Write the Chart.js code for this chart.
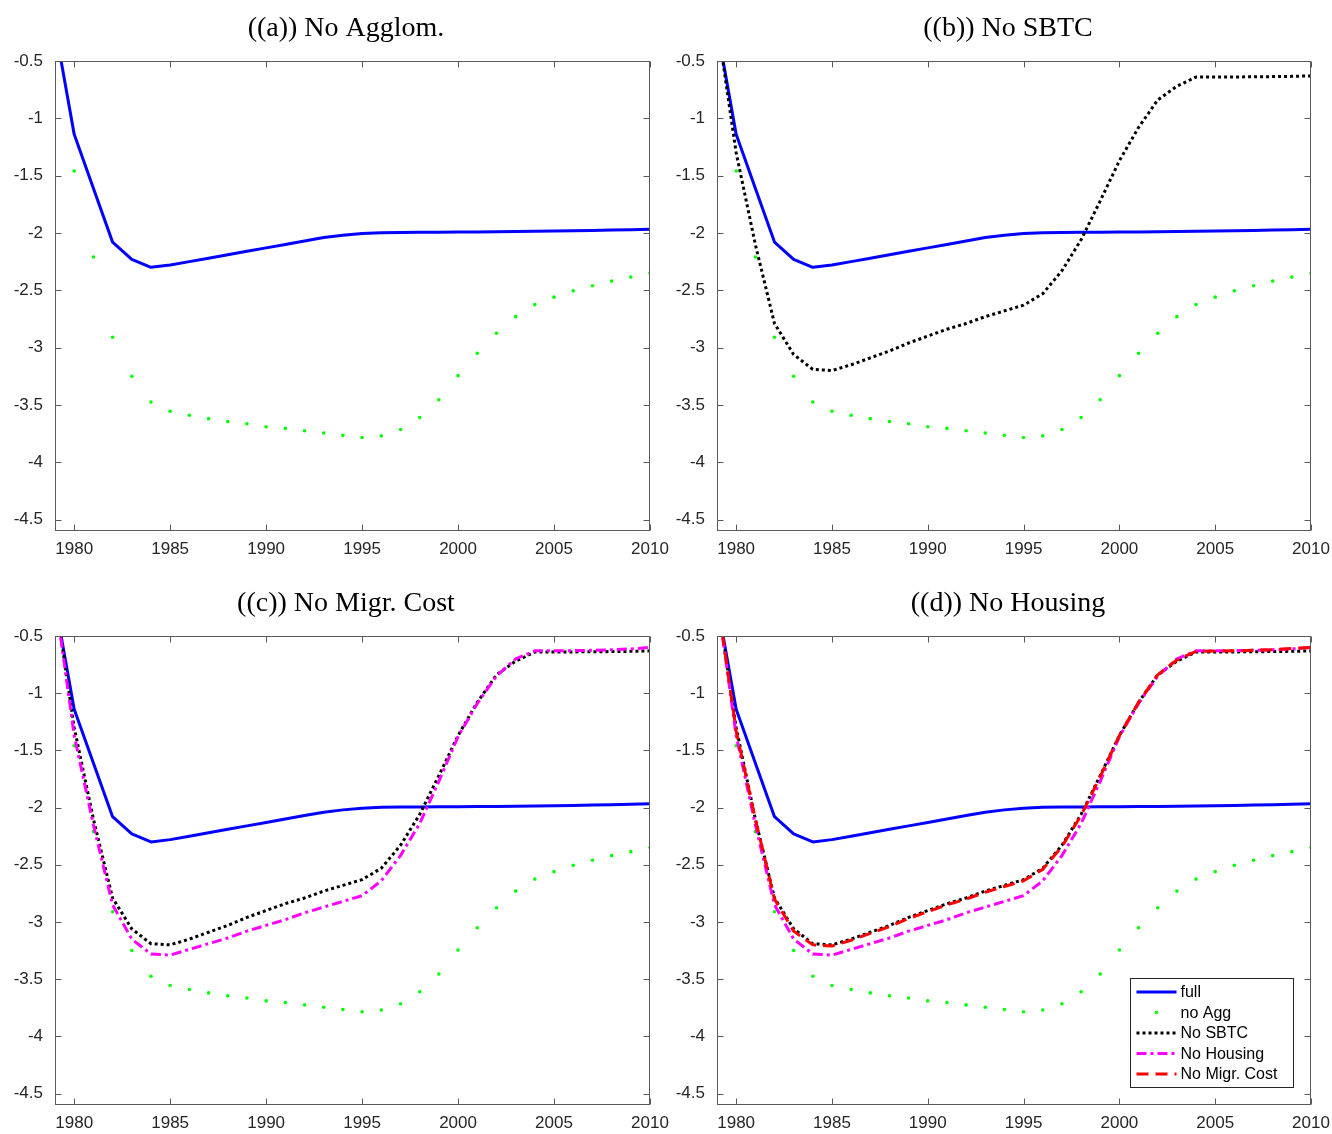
<!DOCTYPE html>
<html>
<head>
<meta charset="utf-8">
<script src="https://cdn.jsdelivr.net/npm/chart.js@4.4.1/dist/chart.umd.min.js"></script>
<style>
  html, body { margin: 0; padding: 0; background: #fff; overflow: hidden; }
  #wrap { position: relative; width: 1332px; height: 1134px; overflow: hidden; }
  canvas { position: absolute; }
</style>
</head>
<body>
<div id="wrap">
  <canvas id="pa" width="692" height="575" style="left:0;top:0"></canvas>
  <canvas id="pb" width="692" height="575" style="left:662px;top:0"></canvas>
  <canvas id="pc" width="692" height="559" style="left:0;top:575px"></canvas>
  <canvas id="pd" width="692" height="559" style="left:662px;top:575px"></canvas>
</div>
<script>
const years = [1979, 1980, 1981, 1982, 1983, 1984, 1985, 1986, 1987, 1988, 1989,
               1990, 1991, 1992, 1993, 1994, 1995, 1996, 1997, 1998, 1999,
               2000, 2001, 2002, 2003, 2004, 2005, 2006, 2007, 2008, 2009, 2010];

const full = [-0.2, -1.14, -1.61, -2.08, -2.23, -2.30, -2.28, -2.25, -2.22, -2.19, -2.16,
              -2.13, -2.10, -2.07, -2.04, -2.02, -2.005, -1.998, -1.995, -1.994, -1.993,
              -1.992, -1.991, -1.99, -1.988, -1.986, -1.984, -1.981, -1.978, -1.975, -1.971, -1.967];

const noAgg = [-0.3, -1.46, -2.21, -2.91, -3.25, -3.475, -3.555, -3.59, -3.62, -3.645, -3.665,
               -3.69, -3.705, -3.725, -3.745, -3.765, -3.785, -3.77, -3.715, -3.61, -3.455,
               -3.245, -3.05, -2.875, -2.73, -2.625, -2.56, -2.505, -2.46, -2.42, -2.385, -2.35];

const noSBTC = [-0.15, -1.30, -2.10, -2.79, -3.06, -3.19, -3.20, -3.15, -3.09, -3.03, -2.96,
                -2.90, -2.84, -2.79, -2.73, -2.68, -2.63, -2.53, -2.33, -2.06, -1.72,
                -1.37, -1.08, -0.84, -0.72, -0.64, -0.64, -0.639, -0.638, -0.636, -0.634, -0.63];

const noHousing = [-0.15, -1.37, -2.15, -2.85, -3.15, -3.28, -3.29, -3.24, -3.19, -3.14, -3.08,
                   -3.03, -2.98, -2.92, -2.87, -2.82, -2.77, -2.64, -2.42, -2.14, -1.77,
                   -1.38, -1.09, -0.85, -0.70, -0.63, -0.63, -0.628, -0.625, -0.62, -0.613, -0.60];

const noMigrCost = [-0.15, -1.33, -2.10, -2.80, -3.08, -3.20, -3.21, -3.16, -3.10, -3.04, -2.97,
                    -2.91, -2.85, -2.80, -2.74, -2.69, -2.64, -2.54, -2.34, -2.07, -1.73,
                    -1.37, -1.08, -0.84, -0.71, -0.635, -0.632, -0.63, -0.625, -0.62, -0.61, -0.60];

const xTicks = [1980, 1985, 1990, 1995, 2000, 2005, 2010];
const yTicks = [-4.5, -4, -3.5, -3, -2.5, -2, -1.5, -1, -0.5];

const titles = ['((a)) No Agglom.', '((b)) No SBTC', '((c)) No Migr. Cost', '((d)) No Housing'];

// which series show up in each panel
const panelSeries = [
  ['full', 'noAgg'],
  ['full', 'noAgg', 'noSBTC'],
  ['full', 'noAgg', 'noSBTC', 'noHousing'],
  ['full', 'noAgg', 'noSBTC', 'noHousing', 'noMigrCost']
];

const toPts = arr => years.map((yr, i) => ({ x: yr, y: arr[i] }));

const seriesDefs = {
  full:       { label: 'full', data: full, borderColor: '#0000ff', borderWidth: 3 },
  noAgg:      { label: 'no Agg', data: noAgg, borderColor: '#00ff00', showLine: false,
                pointRadius: 1.8, pointBackgroundColor: '#00ff00', pointBorderWidth: 0 },
  noSBTC:     { label: 'No SBTC', data: noSBTC, borderColor: '#000000', borderWidth: 3, borderDash: [3, 3] },
  noHousing:  { label: 'No Housing', data: noHousing, borderColor: '#ff00ff', borderWidth: 3, borderDash: [10, 4, 3, 4] },
  noMigrCost: { label: 'No Migr. Cost', data: noMigrCost, borderColor: '#ff0000', borderWidth: 3, borderDash: [12, 7] }
};

// matlab-style box with inward ticks on all four sides
const boxTicks = {
  id: 'boxTicks',
  afterDraw(chart) {
    const { ctx, chartArea: a, scales: { x, y } } = chart;
    const L = Math.round(a.left) + 0.5, R = Math.round(a.right) - 0.5;
    const T = Math.round(a.top) + 0.5, B = Math.round(a.bottom) - 0.5;
    const len = 6;
    ctx.save();
    ctx.strokeStyle = '#5a5a5a';
    ctx.lineWidth = 1;
    ctx.strokeRect(L, T, R - L, B - T);
    ctx.beginPath();
    xTicks.forEach(v => {
      const px = Math.round(x.getPixelForValue(v)) + 0.5;
      ctx.moveTo(px, B); ctx.lineTo(px, B - len);
      ctx.moveTo(px, T); ctx.lineTo(px, T + len);
    });
    yTicks.forEach(v => {
      const py = Math.round(y.getPixelForValue(v)) + 0.5;
      ctx.moveTo(L, py); ctx.lineTo(L + len, py);
      ctx.moveTo(R, py); ctx.lineTo(R - len, py);
    });
    ctx.stroke();
    ctx.restore();
  }
};

const insideLegend = {
  id: 'insideLegend',
  afterDraw(chart) {
    const { ctx, chartArea: a } = chart;
    const sets = chart.data.datasets;
    const rowH = 20.5;
    const w = 163, h = 109;
    const x0 = Math.round(a.right - 18 - w) + 0.5;
    const y0 = Math.round(a.bottom - 18 - h) + 0.5;
    ctx.save();
    ctx.fillStyle = '#fff';
    ctx.fillRect(x0, y0, w, h);
    ctx.strokeStyle = '#262626';
    ctx.lineWidth = 1;
    ctx.strokeRect(x0, y0, w, h);
    ctx.font = '16px "Liberation Sans", Arial, sans-serif';
    ctx.textBaseline = 'middle';
    sets.forEach((d, i) => {
      const cy = y0 + 13.5 + i * rowH;
      if (d.showLine === false) {
        ctx.fillStyle = d.pointBackgroundColor;
        ctx.beginPath();
        ctx.arc(x0 + 26, cy, 1.8, 0, Math.PI * 2);
        ctx.fill();
      } else {
        ctx.strokeStyle = d.borderColor;
        ctx.lineWidth = d.borderWidth;
        ctx.setLineDash(d.borderDash || []);
        ctx.beginPath();
        ctx.moveTo(x0 + 6, cy);
        ctx.lineTo(x0 + 46, cy);
        ctx.stroke();
        ctx.setLineDash([]);
      }
      ctx.fillStyle = '#000';
      ctx.fillText(d.label, x0 + 50, cy + 1);
    });
    ctx.restore();
  }
};

const tickFont = { family: '"Liberation Sans", Arial, sans-serif', size: 17 };

function makePanel(id, idx, rightW, xAxisH) {
  const keys = panelSeries[idx];
  const datasets = keys.map((k, i) => {
    const s = seriesDefs[k];
    return Object.assign({
      pointRadius: 0,
      borderCapStyle: 'butt',
      borderJoinStyle: 'round',
      tension: 0,
      order: keys.length - i
    }, s, { data: toPts(s.data) });
  });
  const plugins = [boxTicks];
  if (idx === 3) plugins.push(insideLegend);

  new Chart(document.getElementById(id), {
    type: 'line',
    data: { datasets },
    options: {
      responsive: false,
      animation: false,
      devicePixelRatio: 1,
      layout: { padding: 0 },
      plugins: {
        legend: { display: false },
        tooltip: { enabled: false },
        title: {
          display: true,
          text: titles[idx],
          fullSize: true,
          color: '#000',
          font: { family: '"Liberation Serif", "Times New Roman", serif', size: 28, weight: 'normal', lineHeight: 1.2 },
          padding: { top: 11.4, bottom: 16 }
        }
      },
      scales: {
        x: {
          type: 'linear',
          min: 1979,
          max: 2010,
          grid: { display: false, drawTicks: false },
          border: { display: false },
          afterBuildTicks: s => { s.ticks = xTicks.map(v => ({ value: v })); },
          afterFit: s => { s.height = xAxisH; },
          ticks: {
            color: '#262626',
            font: tickFont,
            padding: 8,
            maxRotation: 0,
            autoSkip: false,
            callback: v => String(v)
          }
        },
        y: {
          min: -4.6,
          max: -0.5,
          grid: { display: false, drawTicks: false },
          border: { display: false },
          afterBuildTicks: s => { s.ticks = yTicks.map(v => ({ value: v })); },
          afterFit: s => { s.width = 55; },
          ticks: {
            color: '#262626',
            font: tickFont,
            padding: 12,
            autoSkip: false,
            callback: v => String(v)
          }
        },
        // empty right-hand spacer so the title centres over the whole figure column
        yRight: {
          position: 'right',
          display: true,
          grid: { display: false, drawTicks: false },
          border: { display: false },
          ticks: { display: false },
          afterFit: s => { s.width = rightW; }
        }
      }
    },
    plugins
  });
}

makePanel('pa', 0, 42, 44);
makePanel('pb', 1, 43, 44);
makePanel('pc', 2, 42, 29);
makePanel('pd', 3, 43, 29);
</script>
</body>
</html>
